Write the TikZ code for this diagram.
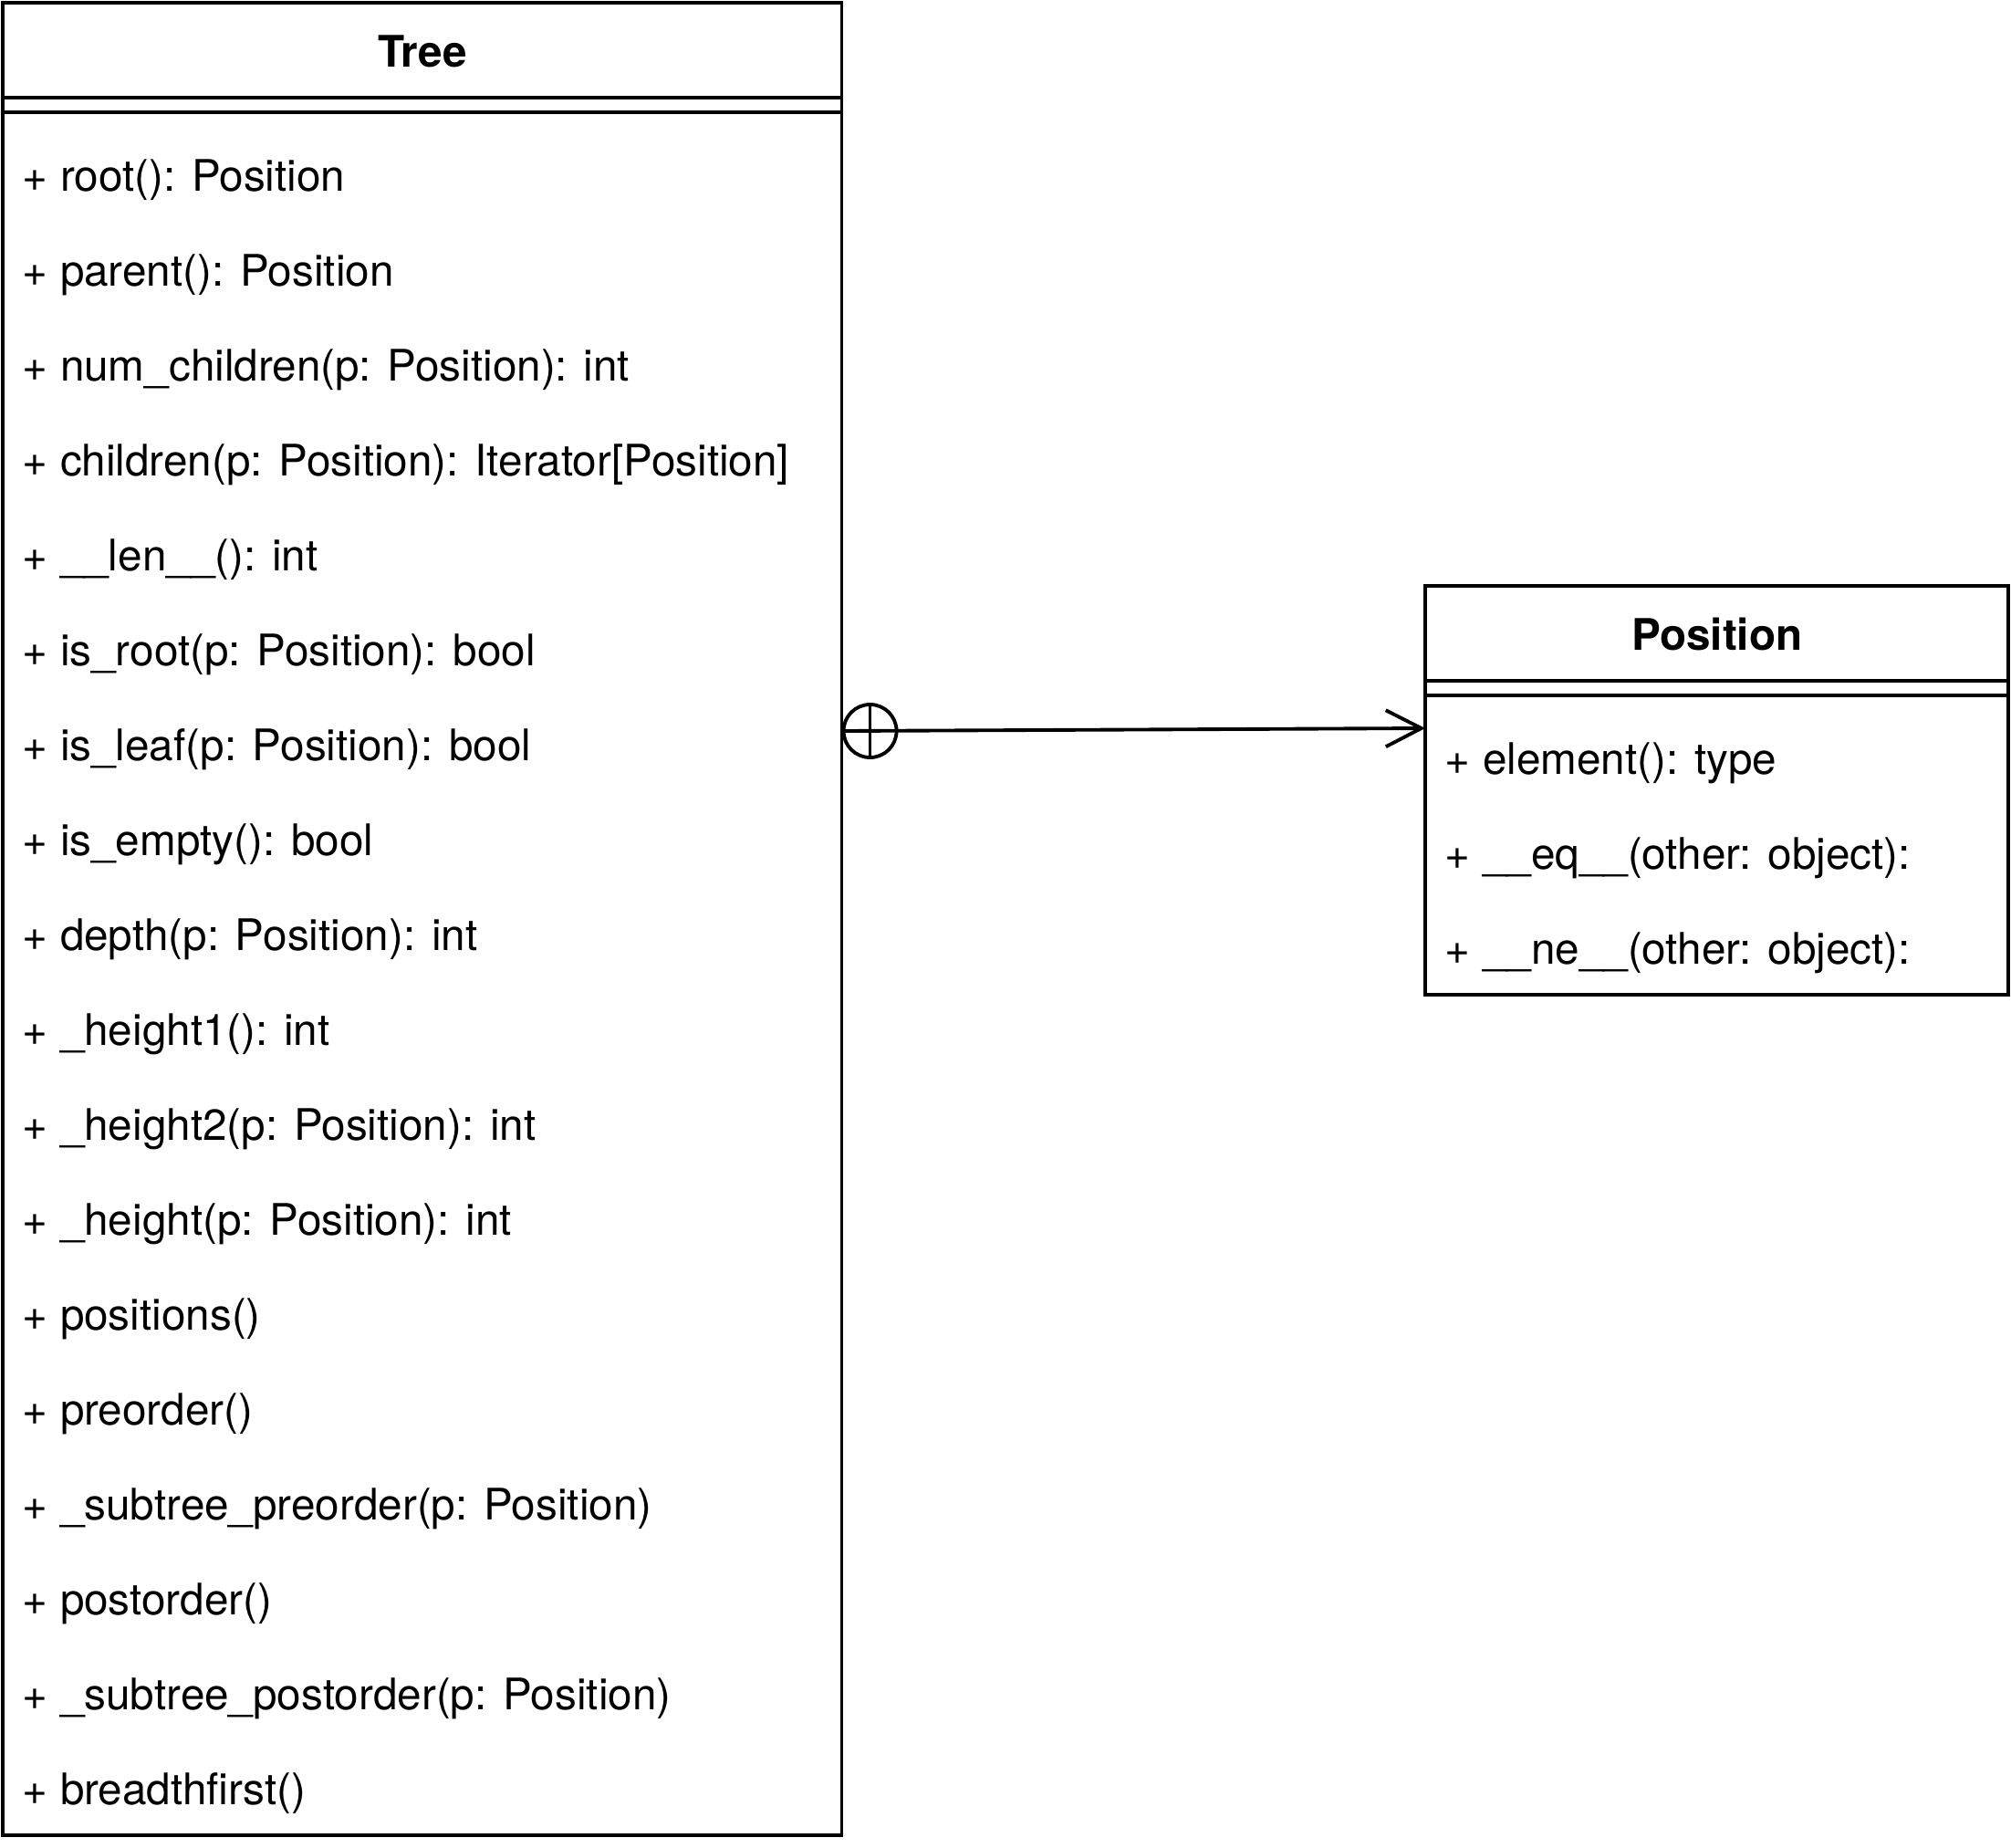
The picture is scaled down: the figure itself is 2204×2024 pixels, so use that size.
\documentclass[tikz,border=0pt]{standalone}
\usepackage{fontspec}
\setmainfont{TeX Gyre Heros}
\usetikzlibrary{arrows.meta,calc}
\begin{document}
\begin{tikzpicture}[x=0.01cm,y=-0.01cm,line width=1.1pt,
  every node/.style={font=\fontsize{13.55}{16}\selectfont},
  classbox/.style={draw,rectangle,inner sep=0pt,outer sep=0pt,anchor=north west},
  member/.style={anchor=base west,inner sep=0pt},
  classname/.style={anchor=base,inner sep=0pt,font=\fontsize{13.55}{16}\selectfont\bfseries}]
  \useasboundingbox (0,0) rectangle (2204,2024);
  % Tree class
  \node[classbox,minimum width=9.19cm,minimum height=20.07cm] (tree) at (3,3) {};
  \node[classname] (tree-name) at ($(tree.north)+(0,70)$) {Tree};
  \draw ($(tree.north west)+(0,104)$) -- ($(tree.north east)+(0,104)$);
  \draw ($(tree.north west)+(0,120)$) -- ($(tree.north east)+(0,120)$);
  \foreach \m [count=\i from 0] in {{+ root(): Position},{+ parent(): Position},
      {+ num\_children(p: Position): int},{+ children(p: Position): Iterator[Position]},
      {+ \_\_len\_\_(): int},{+ is\_root(p: Position): bool},{+ is\_leaf(p: Position): bool},
      {+ is\_empty(): bool},{+ depth(p: Position): int},{+ \_height1(): int},
      {+ \_height2(p: Position): int},{+ \_height(p: Position): int},{+ positions()},
      {+ preorder()},{+ \_subtree\_preorder(p: Position)},{+ postorder()},
      {+ \_subtree\_postorder(p: Position)},{+ breadthfirst()}}
    \node[member] (tree-m\i) at ($(tree.north west)+(20,{206+104*\i})$) {\m};
  % Position class
  \node[classbox,minimum width=6.39cm,minimum height=4.48cm] (pos) at (1562,642) {};
  \node[classname] (pos-name) at ($(pos.north)+(0,70)$) {Position};
  \draw ($(pos.north west)+(0,104)$) -- ($(pos.north east)+(0,104)$);
  \draw ($(pos.north west)+(0,120)$) -- ($(pos.north east)+(0,120)$);
  \foreach \m [count=\i from 0] in {{+ element(): type},{+ \_\_eq\_\_(other: object):},
      {+ \_\_ne\_\_(other: object):}}
    \node[member] (pos-m\i) at ($(pos.north west)+(20,{206+104*\i})$) {\m};
  % nesting
  \draw[-{Straight Barb[length=0.39cm,width=0.40cm,sharp]}]
    ($(tree.north east)+(0,798)$) -- ($(pos.north west)+(0,156)$);
  \draw ($(tree.north east)+(31,798)$) coordinate (plus) circle [radius=0.29cm];
  \draw ($(plus)+(0,-29)$) -- ($(plus)+(0,29)$);
\end{tikzpicture}
\end{document}
